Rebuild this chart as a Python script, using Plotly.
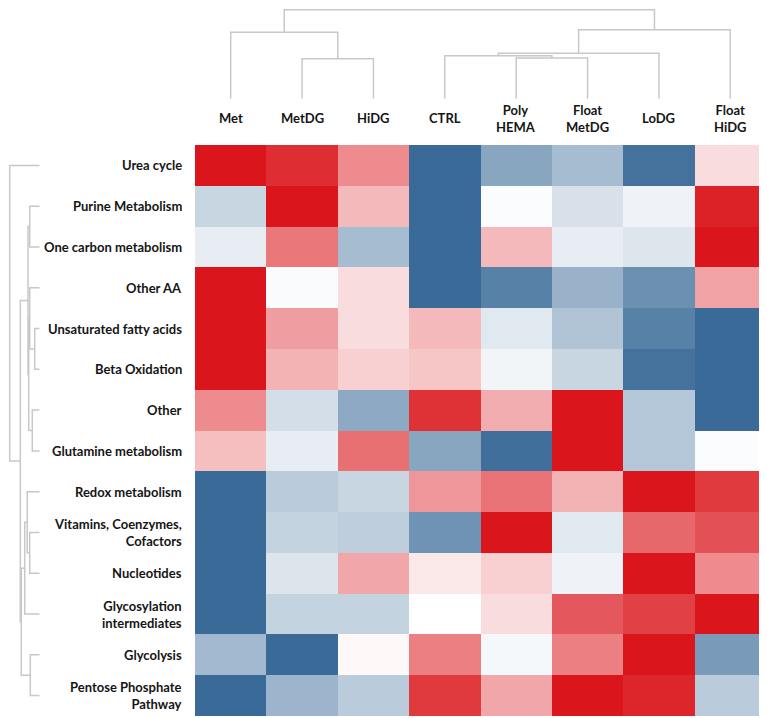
import plotly.graph_objects as go

# ---------------- data ----------------
col_labels = ["Met", "MetDG", "HiDG", "CTRL", "Poly<br>HEMA", "Float<br>MetDG", "LoDG", "Float<br>HiDG"]
row_labels = [
    "Urea cycle", "Purine Metabolism", "One carbon metabolism", "Other AA",
    "Unsaturated fatty acids", "Beta Oxidation", "Other", "Glutamine metabolism",
    "Redox metabolism", "Vitamins, Coenzymes,<br>Cofactors", "Nucleotides",
    "Glycosylation<br>intermediates", "Glycolysis", "Pentose Phosphate<br>Pathway",
]

# scaled values (-1 = blue, +1 = red), rows x columns
z_urea      = [1.00, 0.90, 0.50, -1.00, -0.60, -0.45, -0.95, 0.15]
z_purine    = [-0.28, 1.00, 0.30, -1.00, -0.02, -0.20, -0.08, 0.95]
z_onecarbon = [-0.12, 0.58, -0.45, -1.00, 0.30, -0.12, -0.17, 1.00]
z_otheraa   = [1.00, -0.03, 0.15, -1.00, -0.85, -0.52, -0.75, 0.40]
z_unsat     = [1.00, 0.42, 0.15, 0.30, -0.15, -0.40, -0.85, -1.00]
z_betaox    = [1.00, 0.33, 0.20, 0.25, -0.07, -0.28, -0.95, -1.00]
z_other     = [0.50, -0.22, -0.58, 0.88, 0.35, 1.00, -0.38, -1.00]
z_glutamine = [0.28, -0.12, 0.62, -0.60, -0.97, 1.00, -0.38, -0.02]
z_redox     = [-1.00, -0.35, -0.28, 0.45, 0.60, 0.33, 1.00, 0.85]
z_vitamins  = [-1.00, -0.30, -0.33, -0.73, 1.00, -0.15, 0.65, 0.75]
z_nucleot   = [-1.00, -0.18, 0.38, 0.10, 0.20, -0.08, 1.00, 0.50]
z_glycosyl  = [-1.00, -0.30, -0.30, 0.00, 0.15, 0.72, 0.82, 1.00]
z_glycolys  = [-0.47, -1.00, 0.03, 0.55, -0.05, 0.55, 1.00, -0.68]
z_pentose   = [-1.00, -0.50, -0.35, 0.85, 0.38, 1.00, 0.93, -0.35]
z_rows = [z_urea, z_purine, z_onecarbon, z_otheraa, z_unsat, z_betaox, z_other,
          z_glutamine, z_redox, z_vitamins, z_nucleot, z_glycosyl, z_glycolys, z_pentose]

# column clustering (scipy-like linkage: left, right, height); leaves 0..7
col_link_left   = [1, 4, 3, 10, 0, 11, 12]
col_link_right  = [2, 5, 9, 6, 8, 7, 13]
col_link_height = [40.0, 40.7, 43.0, 45.4, 66.4, 69.0, 89.0]

# row clustering; leaves 0..13
row_link_left   = [4, 6, 1, 3, 9, 12, 17, 16, 8, 22, 23, 21, 0]
row_link_right  = [5, 7, 2, 14, 10, 13, 15, 20, 18, 11, 19, 24, 25]
row_link_height = [5.0, 7.4, 10.0, 10.0, 10.0, 9.4, 11.0, 11.7, 12.5, 15.0, 18.4, 19.4, 30.0]


def dendro_segments(n, lefts, rights, heights):
    pos = {i: float(i) for i in range(n)}
    hgt = {i: 0.0 for i in range(n)}
    p_list, h_list = [], []
    for k, (a, b, h) in enumerate(zip(lefts, rights, heights)):
        idx = n + k
        p_list += [pos[a], pos[a], pos[b], pos[b], None]
        h_list += [hgt[a], h, h, hgt[b], None]
        pos[idx] = (pos[a] + pos[b]) / 2
        hgt[idx] = h
    return p_list, h_list


W, H = 767, 718
hm_x0, hm_x1 = 187, 758
hm_y0, hm_y1 = 137, 708

def px_x(v):
    return v / W

def px_y(v):
    return 1 - v / H

fig = go.Figure()

n_cols = len(col_labels)
n_rows = len(row_labels)

fig.add_trace(go.Heatmap(
    z=z_rows,
    x=list(range(n_cols)),
    y=list(range(n_rows)),
    zmin=-1, zmax=1,
    colorscale=[[0, "rgb(58,107,152)"], [0.5, "rgb(255,255,255)"], [1, "rgb(218,22,28)"]],
    showscale=False,
    xaxis="x", yaxis="y",
    hoverinfo="skip",
))

line_style = dict(color="rgb(200,200,200)", width=1.5)

cx, ch = dendro_segments(n_cols, col_link_left, col_link_right, col_link_height)
fig.add_trace(go.Scatter(x=cx, y=ch, mode="lines", line=line_style,
                         xaxis="x2", yaxis="y2", hoverinfo="skip", showlegend=False))

ry, rh = dendro_segments(n_rows, row_link_left, row_link_right, row_link_height)
fig.add_trace(go.Scatter(x=rh, y=ry, mode="lines", line=line_style,
                         xaxis="x3", yaxis="y3", hoverinfo="skip", showlegend=False))

hidden = dict(showgrid=False, zeroline=False, showticklabels=False, ticks="", showline=False)

leaf_px_top = 90.7
leaf_px_left = 31.7

fig.update_layout(
    width=W, height=H,
    margin=dict(l=0, r=0, t=0, b=0),
    paper_bgcolor="white", plot_bgcolor="white",
    showlegend=False,
    xaxis=dict(domain=[px_x(hm_x0), px_x(hm_x1)], range=[-0.5, n_cols - 0.5], anchor="y", **hidden),
    yaxis=dict(domain=[px_y(hm_y1), px_y(hm_y0)], range=[n_rows - 0.5, -0.5], anchor="x", **hidden),
    xaxis2=dict(domain=[px_x(hm_x0), px_x(hm_x1)], range=[-0.5, n_cols - 0.5], anchor="y2", **hidden),
    yaxis2=dict(domain=[px_y(leaf_px_top), 1.0], range=[0, leaf_px_top], anchor="x2", **hidden),
    xaxis3=dict(domain=[0.0, px_x(leaf_px_left)], range=[leaf_px_left, 0], anchor="y3", **hidden),
    yaxis3=dict(domain=[px_y(hm_y1), px_y(hm_y0)], range=[n_rows - 0.5, -0.5], anchor="x3", **hidden),
)

label_font = dict(family="Lato, 'Open Sans', sans-serif", size=13, color="#151515")
annotations = []
for i, lab in enumerate(col_labels):
    annotations.append(dict(
        x=i, y=px_y(110), xref="x", yref="paper", text="<b>%s</b>" % lab,
        showarrow=False, xanchor="center", yanchor="middle", align="center", font=label_font,
    ))
for j, lab in enumerate(row_labels):
    annotations.append(dict(
        x=px_x(176), y=j, xref="paper", yref="y", text="<b>%s</b>" % lab,
        showarrow=False, xanchor="right", yanchor="middle", align="right", font=label_font,
    ))
fig.update_layout(annotations=annotations)

fig.write_html("out.html")
